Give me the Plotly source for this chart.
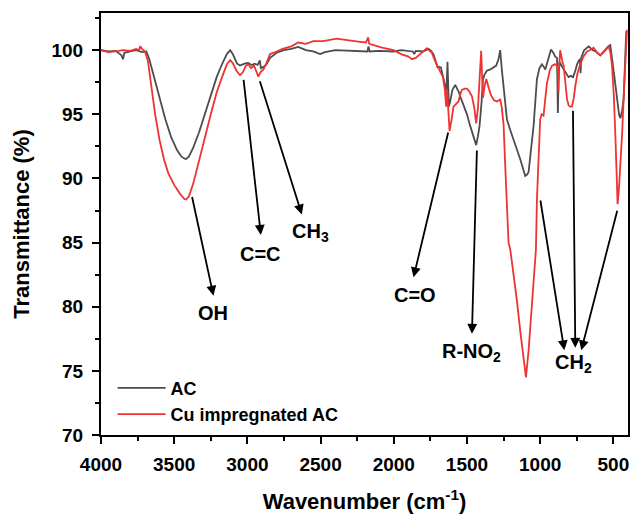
import plotly.graph_objects as go

# ---- data ----
ac_wn = [4000,3950,3900,3860,3850,3840,3800,3760,3720,3690,3670,3640,3600,3560,3520,3480,3450,3421,3400,3370,3330,3290,3250,3210,3170,3140,3118,3100,3070,3050,3020,2995,2970,2950,2930,2915,2908,2890,2870,2845,2800,2750,2700,2653,2600,2550,2503,2470,2400,2300,2230,2180,2173,2165,2100,2002,1950,1900,1870,1860,1850,1800,1763,1745,1729,1710,1701,1690,1678,1665,1649,1640,1633,1628,1624,1615,1600,1580,1565,1558,1540,1524,1500,1478,1455,1437,1425,1414,1400,1391,1380,1364,1340,1318,1300,1285,1273,1262,1250,1240,1227,1205,1182,1160,1136,1115,1102,1090,1079,1065,1045,1030,1022,1005,988,975,965,945,926,910,897,885,881,879,875,868,850,829,806,790,775,760,748,735,728,724,720,700,669,640,620,589,560,535,521,510,500,487,470,460,452,440,430,420,412]
ac_t = [100.0,99.9,99.95,99.6,99.3,99.8,99.9,100.0,99.85,99.9,99.3,98.0,96.3,94.6,93.2,92.2,91.7,91.5,91.7,92.4,93.6,95.0,96.5,97.9,99.0,99.7,100.0,99.7,98.95,98.8,98.95,99.0,98.85,98.95,98.85,99.2,98.6,98.7,98.9,99.4,99.8,100.0,100.1,100.25,100.0,99.9,99.7,99.85,100.0,99.95,99.95,99.9,100.3,99.9,99.95,99.9,100.0,99.95,99.9,99.7,99.95,99.9,100.1,99.95,99.7,99.0,98.66,98.7,98.66,98.0,97.2,96.8,99.1,97.0,95.6,96.0,96.9,97.3,97.0,96.8,96.2,95.7,95.0,94.1,93.3,92.6,93.3,94.1,96.0,97.7,98.1,98.4,98.5,98.66,98.8,99.3,100.0,98.5,97.0,95.7,94.6,93.8,93.1,92.3,91.5,90.7,90.2,90.3,90.5,92.0,94.1,96.5,97.75,98.6,98.9,98.7,98.5,99.3,100.05,99.8,99.5,99.4,97.0,95.1,97.5,99.1,98.7,98.3,97.9,98.0,97.9,98.4,98.9,99.2,99.3,98.2,99.4,100.0,100.3,100.0,99.9,99.6,100.0,100.3,100.4,99.5,98.4,97.4,95.8,94.9,94.7,95.3,96.2,99.0,101.5]

cu_wn = [4000,3950,3900,3850,3800,3760,3740,3733,3720,3700,3680,3660,3630,3600,3570,3540,3500,3460,3430,3419,3400,3370,3330,3290,3250,3210,3170,3140,3118,3100,3075,3050,3030,3010,2993,2975,2955,2940,2925,2910,2890,2870,2845,2800,2760,2700,2653,2600,2550,2483,2430,2389,2330,2280,2230,2190,2175,2168,2139,2080,2002,1950,1900,1876,1850,1831,1800,1774,1760,1740,1720,1694,1680,1664,1652,1642,1636,1630,1619,1605,1592,1575,1558,1545,1535,1515,1500,1485,1466,1450,1437,1425,1414,1408,1403,1397,1390,1380,1368,1350,1336,1315,1295,1280,1273,1262,1250,1235,1216,1204,1180,1159,1135,1113,1097,1079,1060,1045,1029,1022,1012,1000,990,977,965,954,935,919,900,885,878,875,872,863,850,840,828,817,806,795,783,770,760,745,726,705,680,660,635,610,589,560,532,520,509,497,487,478,471,462,452,440,430,418,407]
cu_t = [100.0,99.85,99.9,100.0,99.95,100.1,100.0,100.3,100.1,99.9,99.2,97.5,95.0,93.0,91.5,90.4,89.5,88.8,88.4,88.36,88.6,89.6,91.3,93.2,95.0,96.7,98.0,98.9,99.22,99.0,98.4,98.05,98.3,98.8,98.9,98.6,98.8,98.4,97.94,98.3,98.5,99.0,99.7,99.9,100.1,100.3,100.6,100.5,100.7,100.7,100.8,100.9,100.8,100.75,100.65,100.6,101.0,100.5,100.4,100.2,100.0,99.7,99.5,99.3,99.4,99.6,99.9,100.16,100.0,99.8,99.2,98.6,98.3,97.9,97.0,95.6,97.0,95.8,93.7,94.6,95.6,95.8,96.0,96.6,96.9,97.0,97.0,96.8,96.4,95.5,94.3,95.5,97.5,99.0,99.95,98.0,96.3,97.2,97.75,97.0,96.5,96.1,96.0,96.1,96.2,95.5,94.2,90.0,85.0,84.45,82.5,80.5,78.0,75.9,74.5,76.6,79.5,81.9,84.45,88.4,92.0,94.6,95.0,94.9,96.2,97.4,98.4,98.8,98.9,98.8,98.5,96.7,98.5,100.0,99.2,98.8,97.5,96.2,95.7,95.6,95.6,96.3,97.2,98.2,98.9,99.5,99.9,100.0,100.2,99.8,99.6,99.9,100.3,99.8,98.8,96.5,93.6,90.5,88.0,89.2,91.0,93.5,96.2,99.5,101.6]

series_names = ["AC", "Cu impregnated AC"]
series_colors = ["#4d4d4d", "#ee3333"]

# annotations: (label, text x, text y)
labels = ["OH", "C=C", "CH<sub>3</sub>", "C=O", "R-NO<sub>2</sub>", "CH<sub>2</sub>"]
label_x = [3232, 2908, 2570, 1854, 1466, 771]
label_y = [79.5, 84.1, 85.8, 80.9, 76.4, 75.6]

# arrows: tail (x, y) -> head (x, y)
arrow_tail_x = [3380, 3027, 2918, 1626, 1432, 1000, 776, 471]
arrow_tail_y = [88.67, 97.8, 97.7, 93.7, 92.3, 88.4, 95.4, 87.6]
arrow_head_x = [3232, 2908, 2628, 1865, 1466, 835, 760, 719]
arrow_head_y = [80.86, 85.6, 87.2, 82.3, 77.9, 76.6, 76.8, 76.6]

fig = go.Figure()
fig.add_trace(go.Scatter(x=ac_wn, y=ac_t, mode="lines", name=series_names[0],
                         line=dict(color=series_colors[0], width=1.8)))
fig.add_trace(go.Scatter(x=cu_wn, y=cu_t, mode="lines", name=series_names[1],
                         line=dict(color=series_colors[1], width=1.8)))

fam = "Liberation Sans, Arial, sans-serif"

def bold(size):
    return dict(family=fam, color="black", weight="bold", size=size)

for lab, lx, ly in zip(labels, label_x, label_y):
    fig.add_annotation(x=lx, y=ly, text=lab, showarrow=False, xref="x", yref="y",
                       font=bold(20))

for tx, ty, hx, hy in zip(arrow_tail_x, arrow_tail_y, arrow_head_x, arrow_head_y):
    fig.add_annotation(x=hx, y=hy, ax=tx, ay=ty, xref="x", yref="y", axref="x", ayref="y",
                       text="", showarrow=True, arrowhead=2, arrowsize=1.1, arrowwidth=1.8,
                       arrowcolor="black")

axis_common = dict(showline=True, linewidth=2, linecolor="black", mirror=True,
                   ticks="outside", tickwidth=2, ticklen=7, tickcolor="black",
                   showgrid=False, zeroline=False, automargin=False,
                   tickfont=bold(19))

fig.update_xaxes(range=[4000, 400], autorange=False, dtick=500, tick0=0,
                 ticklabelstandoff=4,
                 minor=dict(ticks="outside", ticklen=4, tickwidth=1.5, dtick=250, tickcolor="black"),
                 title=dict(text="Wavenumber (cm<sup>-1</sup>)", font=bold(22), standoff=33),
                 **axis_common)
fig.update_yaxes(range=[70, 102.9], autorange=False, dtick=5, tick0=0,
                 ticklabelstandoff=5,
                 minor=dict(ticks="outside", ticklen=4, tickwidth=1.5, dtick=2.5, tickcolor="black"),
                 title=dict(text="Transmittance (%)", font=bold(22), standoff=16),
                 **axis_common)

fig.update_layout(
    width=630, height=514,
    margin=dict(l=101, r=2, t=13, b=79),
    paper_bgcolor="white", plot_bgcolor="white",
    showlegend=True,
    legend=dict(x=0.022, y=0.155, xanchor="left", yanchor="top", bgcolor="rgba(0,0,0,0)",
                font=bold(18), tracegroupgap=0, itemwidth=48),
)

# remove the default page margin so the 630x514 figure fills the window exactly
fig.write_html("out.html",
               config={"displayModeBar": False},
               post_script="document.body.style.margin='0';document.body.style.overflow='hidden';")
